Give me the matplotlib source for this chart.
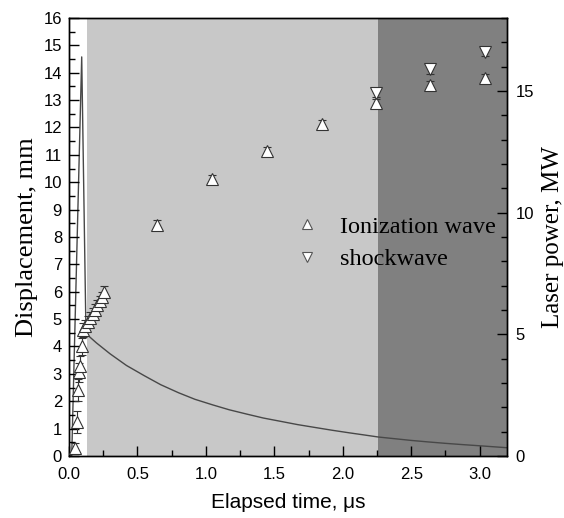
import matplotlib
matplotlib.use("Agg")
from matplotlib import pyplot as plt
from matplotlib.ticker import MultipleLocator, FormatStrFormatter
from matplotlib.lines import Line2D

# Ionization wave (up triangles): time [us], displacement [mm], error
ion_t = [0.044, 0.056, 0.068, 0.075, 0.078, 0.092, 0.105, 0.12, 0.14, 0.157, 0.174, 0.19, 0.207, 0.224, 0.24, 0.255,
         0.64, 1.045, 1.443, 1.845, 2.24, 2.64, 3.04]
ion_d = [0.29, 1.25, 2.4, 3.05, 3.3, 4.0, 4.6, 4.75, 4.9, 5.05, 5.2, 5.35, 5.5, 5.65, 5.8, 6.0,
         8.45, 10.1, 11.13, 12.14, 12.88, 13.54, 13.82]
ion_e = [0.2, 0.4, 0.4, 0.35, 0.35, 0.3, 0.25, 0.2, 0.2, 0.2, 0.2, 0.2, 0.2, 0.2, 0.2, 0.2,
         0.17, 0.15, 0.15, 0.15, 0.15, 0.15, 0.15]

# Shockwave (down triangles)
shock_t = [2.24, 2.64, 3.04]
shock_d = [13.25, 14.12, 14.76]
shock_e = [0.15, 0.15, 0.15]

# Laser power trace: time [us], power [MW]
laser_t = [0.0, 0.02, 0.093, 0.124, 0.13, 0.2, 0.3, 0.42, 0.55, 0.67, 0.8, 0.92, 1.05, 1.17, 1.3, 1.42, 1.55,
           1.67, 1.8, 1.92, 2.05, 2.15, 2.26, 2.38, 2.5, 2.62, 2.75, 2.87, 3.0, 3.1, 3.2]
laser_p = [0.0, 0.0, 16.4, 5.1, 5.0, 4.65, 4.2, 3.72, 3.3, 2.93, 2.6, 2.33, 2.1, 1.9, 1.72, 1.56, 1.42,
           1.29, 1.17, 1.06, 0.95, 0.87, 0.78, 0.71, 0.64, 0.58, 0.52, 0.47, 0.42, 0.38, 0.34]

# shaded time regions [us]
region_light = (0.135, 2.255)
region_dark = (2.255, 3.2)

serif = ["Liberation Serif", "DejaVu Serif"]
sans = ["Liberation Sans", "DejaVu Sans"]
plt.rcParams['font.family'] = sans

fig = plt.figure(figsize=(5.64, 5.18), dpi=100)
ax = fig.add_axes([0.1223, 0.1197, 0.899 - 0.1223, 0.9653 - 0.1197])
ax2 = ax.twinx()

# background shading and laser trace on the power axis, markers on top
ax2.axvspan(*region_light, color="#c8c8c8", lw=0, zorder=0)
ax2.axvspan(*region_dark, color="#808080", lw=0, zorder=0)
ax2.plot(laser_t, laser_p, color="#484848", lw=1.0, zorder=2)

ax.set_zorder(ax2.get_zorder() + 1)
ax.patch.set_visible(False)

mk = dict(ms=8, mfc="white", mec="#333333", mew=0.8, ecolor="#333333",
          elinewidth=0.8, capsize=3, capthick=0.8, zorder=3)
ax.errorbar(ion_t, ion_d, yerr=ion_e, fmt="^", **mk)
ax.errorbar(shock_t, shock_d, yerr=shock_e, fmt="v", **mk)

ax.set_xlim(0, 3.2)
ax.set_ylim(0, 16)
ax2.set_ylim(0, 18)

ax.xaxis.set_major_locator(MultipleLocator(0.5))
ax.xaxis.set_minor_locator(MultipleLocator(0.25))
ax.yaxis.set_major_locator(MultipleLocator(1))
ax.yaxis.set_minor_locator(MultipleLocator(0.5))
ax2.yaxis.set_major_locator(MultipleLocator(5))
ax2.yaxis.set_minor_locator(MultipleLocator(1))
ax.xaxis.set_major_formatter(FormatStrFormatter("%.1f"))

ax.tick_params(axis="both", which="major", direction="in", length=7, width=1, labelsize=12, right=False, top=False)
ax.tick_params(axis="both", which="minor", direction="in", length=4, width=1, right=False, top=False)
ax.tick_params(axis="x", which="major", pad=8)
ax.tick_params(axis="y", which="major", pad=5)
ax2.tick_params(axis="y", which="major", direction="in", length=7, width=1, labelsize=12, pad=6)
ax2.tick_params(axis="y", which="minor", direction="in", length=4, width=1)

for a in (ax, ax2):
    for s in a.spines.values():
        s.set_linewidth(1.0)

ax.set_xlabel("Elapsed time, \u03bcs", fontsize=15, labelpad=8)
ax.set_ylabel("Displacement, mm", fontsize=19, family=serif, labelpad=4)
ax2.set_ylabel("Laser power, MW", fontsize=18, family=serif, labelpad=6)

handles = [Line2D([], [], ls="none", marker="^", ms=7, mfc="white", mec="#555555", mew=0.8),
           Line2D([], [], ls="none", marker="v", ms=7, mfc="white", mec="#555555", mew=0.8)]
ax.legend(handles, ["Ionization wave", "shockwave"], loc="upper left", bbox_to_anchor=(0.516, 0.548),
          frameon=False, prop={"family": serif, "size": 17.5}, handletextpad=0.85,
          labelspacing=0.42, handlelength=1.0, borderpad=0, borderaxespad=0)

fig.savefig("out.png", dpi=100)
